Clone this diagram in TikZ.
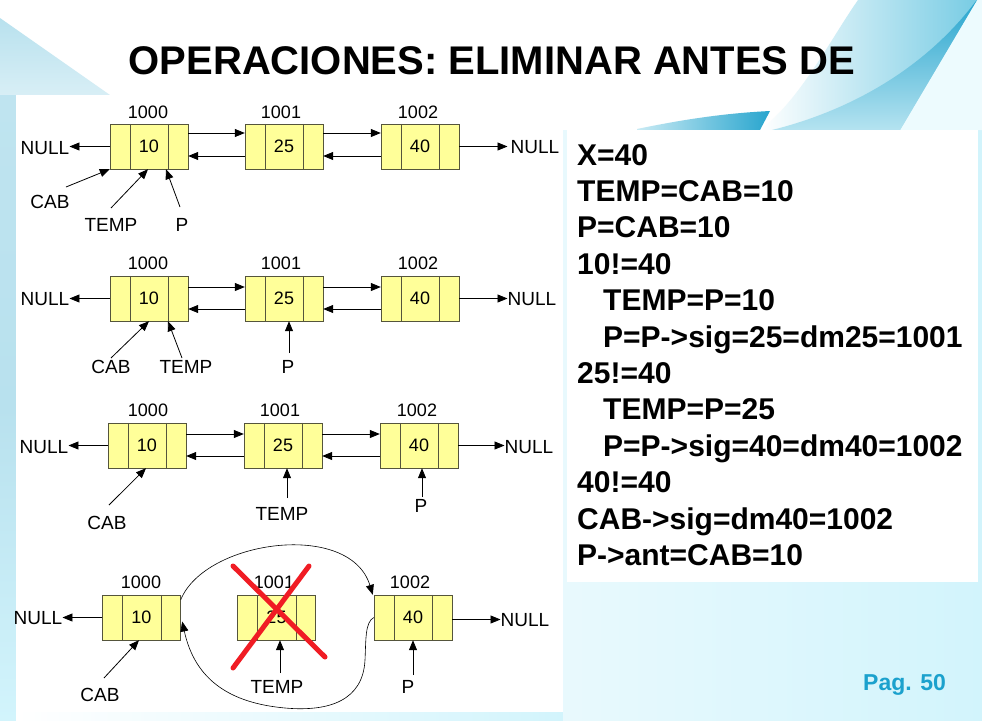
\documentclass[tikz,border=0pt]{standalone}
\usepackage{fontspec}
\setmainfont{Liberation Sans}
\usetikzlibrary{arrows.meta,calc}
\definecolor{nfill}{RGB}{255,255,153}
\definecolor{ndraw}{RGB}{85,85,60}
\definecolor{bgcyan}{RGB}{210,244,252}
\definecolor{tri}{RGB}{184,225,238}
\definecolor{swA}{RGB}{40,165,206}
\definecolor{swB}{RGB}{120,204,228}
\definecolor{pagc}{RGB}{27,161,205}
\definecolor{xred}{RGB}{240,28,36}
\newcommand\listnode[4]{%
  \node[lst] (#1) at (#2,#3) {#4};
  \draw[ndraw] ($(#1.north west)+(20,0)$) -- ($(#1.south west)+(20,0)$);
  \draw[ndraw] ($(#1.north east)+(-20,0)$) -- ($(#1.south east)+(-20,0)$);
}
\begin{document}
\begin{tikzpicture}[x=1pt,y=-1pt,
  lst/.style={draw=ndraw,fill=nfill,minimum width=78pt,minimum height=45pt,inner sep=0pt,font=\fontsize{18}{20}\selectfont},
  adr/.style={inner sep=0pt,font=\fontsize{18}{20}\selectfont},
  lbl/.style={inner sep=0pt,font=\fontsize{19}{21}\selectfont},
  arr/.style={-{Triangle[length=10pt,width=8pt]},line width=0.8pt},
  code/.style={anchor=base west,inner sep=0pt,font=\fontsize{30}{36}\selectfont\bfseries},
  xline/.style={draw=xred,line width=5pt,line cap=round},
]
\useasboundingbox (0,0) rectangle (982,720);
% ---------- background ----------
\fill[bgcyan] (0,0) rectangle (982,720);
\fill[white] (0,0) rectangle (982,130);
\shade[top color=tri, bottom color=tri!55!white] (0,18) -- (110,95) -- (0,95) -- cycle;
\shade[top color=tri!90!white, bottom color=bgcyan, middle color=tri] (0,95) rectangle (16,720);
\shade[left color=white, right color=bgcyan] (16,712) rectangle (563,720);
\shade[left color=white!50!bgcyan, right color=bgcyan] (563,130) rectangle (982,720);
% top-right swoosh
\fill[bgcyan!40!white] (900,130) -- (977,0) -- (982,0) -- (982,130) -- cycle;
\shade[left color=white, right color=swB] (760,130) .. controls (800,100) and (830,40) .. (858,0) -- (977,0) -- (900,130) -- cycle;
\shade[top color=swA, bottom color=swB!55!white] (772,130) .. controls (860,108) and (930,62) .. (976,1) -- (977,0) -- (900,130) -- cycle;
\shade[left color=white!60!swB, right color=swA] (637,129) .. controls (690,118) and (730,113) .. (770,111) -- (760,130) -- (637,130) -- cycle;
% panels
\fill[white] (16,95) rectangle (563,712);
\fill[white] (567,130) rectangle (978,582);
% ---------- title ----------
\node[inner sep=0pt,anchor=base,font=\fontsize{40}{44}\selectfont\bfseries] (title) at (492,74) {OPERACIONES: ELIMINAR ANTES DE};
% ---------- row 1 ----------
\listnode{r1a}{149}{146.5}{10}
\listnode{r1b}{284}{146.5}{25}
\listnode{r1c}{420}{146.5}{40}
\node[adr] (r1la) at (148,112) {1000};
\node[adr] (r1lb) at (281,112) {1001};
\node[adr] (r1lc) at (418,112) {1002};
\node[lbl] (r1nl) at (45,148) {NULL};
\node[lbl] (r1nr) at (535,147) {NULL};
\draw[arr] (r1a.west) -- (r1a.west -| r1nl.east);
\draw[arr] (r1c.east) -- ([xshift=-3pt]r1c.east -| r1nr.west);
\draw[arr] ([yshift=13.5pt]r1a.east) -- ([yshift=13.5pt]r1b.west);
\draw[arr] ([yshift=13.5pt]r1b.east) -- ([yshift=13.5pt]r1c.west);
\draw[arr] ([yshift=-9.5pt]r1b.west) -- ([yshift=-9.5pt]r1a.east);
\draw[arr] ([yshift=-9.5pt]r1c.west) -- ([yshift=-9.5pt]r1b.east);
\node[lbl] (r1cab) at (50,202) {CAB};
\node[lbl] (r1tmp) at (111,225) {TEMP};
\node[lbl] (r1p) at (182,225) {P};
\coordinate (r1s1) at (66,187);
\coordinate (r1s2) at (111,208);
\coordinate (r1s3) at (180,207);
\draw[arr] (r1s1) -- (r1a.south west);
\draw[arr] (r1s2) -- ([xshift=-1pt]r1a.south);
\draw[arr] (r1s3) -- ([xshift=17pt]r1a.south);
% ---------- row 2 ----------
\listnode{r2a}{149}{298.5}{10}
\listnode{r2b}{284}{298.5}{25}
\listnode{r2c}{420}{298.5}{40}
\node[adr] (r2la) at (148,263) {1000};
\node[adr] (r2lb) at (281,263) {1001};
\node[adr] (r2lc) at (418,263) {1002};
\node[lbl] (r2nl) at (45,299) {NULL};
\node[lbl] (r2nr) at (532,299) {NULL};
\draw[arr] (r2a.west) -- (r2a.west -| r2nl.east);
\draw[arr] (r2c.east) -- (r2c.east -| r2nr.west);
\draw[arr] ([yshift=11.5pt]r2a.east) -- ([yshift=11.5pt]r2b.west);
\draw[arr] ([yshift=11.5pt]r2b.east) -- ([yshift=11.5pt]r2c.west);
\draw[arr] ([yshift=-10.5pt]r2b.west) -- ([yshift=-10.5pt]r2a.east);
\draw[arr] ([yshift=-10.5pt]r2c.west) -- ([yshift=-10.5pt]r2b.east);
\node[lbl] (r2cab) at (111,367) {CAB};
\node[lbl] (r2tmp) at (186,367) {TEMP};
\node[lbl] (r2p) at (288,367) {P};
\coordinate (r2s1) at (111,358);
\coordinate (r2s2) at (182,358);
\coordinate (r2s3) at (289,353);
\draw[arr] (r2s1) -- (r2a.south);
\draw[arr] (r2s2) -- ([xshift=19pt]r2a.south);
\draw[arr] (r2s3) -- ([xshift=5pt]r2b.south);
% ---------- row 3 ----------
\listnode{r3a}{147}{445.5}{10}
\listnode{r3b}{283}{445.5}{25}
\listnode{r3c}{419}{445.5}{40}
\node[adr] (r3la) at (148,410) {1000};
\node[adr] (r3lb) at (280,410) {1001};
\node[adr] (r3lc) at (417,410) {1002};
\node[lbl] (r3nl) at (44,447) {NULL};
\node[lbl] (r3nr) at (529,447) {NULL};
\draw[arr] (r3a.west) -- (r3a.west -| r3nl.east);
\draw[arr] (r3c.east) -- (r3c.east -| r3nr.west);
\draw[arr] ([yshift=11.5pt]r3a.east) -- ([yshift=11.5pt]r3b.west);
\draw[arr] ([yshift=11.5pt]r3b.east) -- ([yshift=11.5pt]r3c.west);
\draw[arr] ([yshift=-10.5pt]r3b.west) -- ([yshift=-10.5pt]r3a.east);
\draw[arr] ([yshift=-10.5pt]r3c.west) -- ([yshift=-10.5pt]r3b.east);
\node[lbl] (r3cab) at (107,523) {CAB};
\node[lbl] (r3tmp) at (282,514) {TEMP};
\node[lbl] (r3p) at (421,506) {P};
\coordinate (r3s1) at (109,505);
\coordinate (r3s2) at (287,498);
\coordinate (r3s3) at (422,497);
\draw[arr] (r3s1) -- ([xshift=-1pt]r3a.south);
\draw[arr] (r3s2) -- ([xshift=4pt]r3b.south);
\draw[arr] (r3s3) -- ([xshift=3pt]r3c.south);
% ---------- row 4 ----------
\listnode{r4a}{141.5}{617.5}{10}
\listnode{r4b}{276.5}{617.5}{25}
\listnode{r4c}{413}{617.5}{40}
\node[adr] (r4la) at (141,582) {1000};
\node[adr] (r4lb) at (274,582) {1001};
\node[adr] (r4lc) at (410,582) {1002};
\node[lbl] (r4nl) at (38,618) {NULL};
\node[lbl] (r4nr) at (525,620) {NULL};
\draw[arr] (r4a.west) -- (r4a.west -| r4nl.east);
\draw[arr] ([yshift=-2pt]r4c.east) -- ([yshift=-2pt]r4c.east -| r4nr.west);
\node[lbl] (r4cab) at (100,695) {CAB};
\node[lbl] (r4tmp) at (277,687) {TEMP};
\node[lbl] (r4p) at (408,687) {P};
\coordinate (r4s1) at (104,678);
\coordinate (r4s2) at (280,673);
\coordinate (r4s3) at (413,675);
\draw[arr] (r4s1) -- ([xshift=-2.5pt]r4a.south);
\draw[arr] (r4s2) -- ([xshift=3.5pt]r4b.south);
\draw[arr] (r4s3) -- (r4c.south);
% curves
\draw[arr,line width=0.6pt] ([yshift=-5pt]r4a.north east) .. controls (205,540) and (350,520) .. ([xshift=-1pt]r4c.north west);
\draw[arr,line width=0.6pt] (r4c.west) .. controls (365,622) and (366,640) .. (365,660) .. controls (363,700) and (330,712) .. (285,708) .. controls (230,703) and (195,680) .. ([xshift=1.5pt,yshift=-4pt]r4a.east);
% red cross
\draw[xline] (233,668) -- (309,566);
\draw[xline] (233,566) -- (325,657);
% ---------- code text ----------
\node[code] (c1) at (577,165) {X=40};
\node[code] (c2) at (577,201.4) {TEMP=CAB=10};
\node[code] (c3) at (577,237.8) {P=CAB=10};
\node[code] (c4) at (577,274.2) {10!=40};
\node[code] (c5) at (603,310.6) {TEMP=P=10};
\node[code] (c6) at (603,347) {P=P->sig=25=dm25=1001};
\node[code] (c7) at (577,383.4) {25!=40};
\node[code] (c8) at (603,419.8) {TEMP=P=25};
\node[code] (c9) at (603,456.2) {P=P->sig=40=dm40=1002};
\node[code] (c10) at (577,492.6) {40!=40};
\node[code] (c11) at (577,529) {CAB->sig=dm40=1002};
\node[code] (c12) at (577,565.4) {P->ant=CAB=10};
% page
\node[inner sep=0pt,anchor=base west,text=pagc,font=\fontsize{23}{26}\selectfont\bfseries] (pag) at (863,690) {Pag. 50};
\end{tikzpicture}
\end{document}
